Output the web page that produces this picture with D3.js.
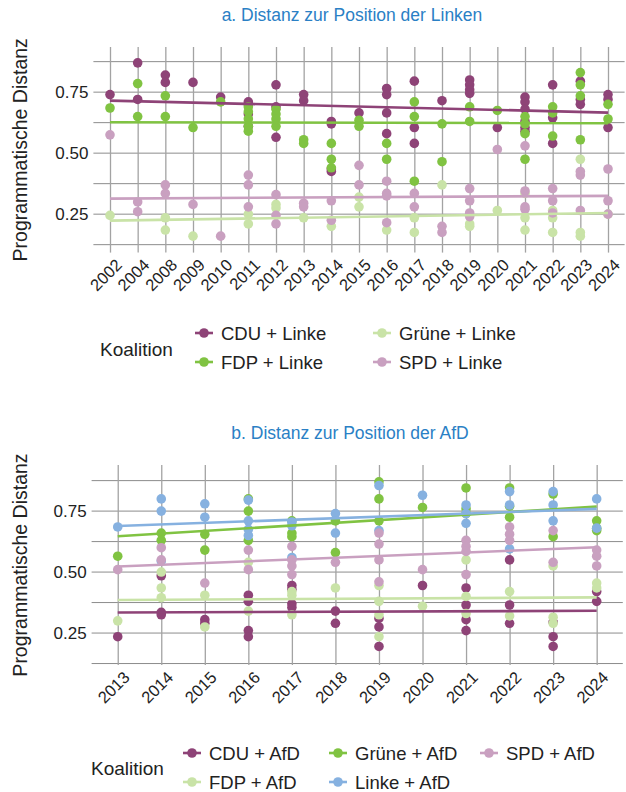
<!DOCTYPE html>
<html>
<head>
<meta charset="utf-8">
<script src="https://cdn.jsdelivr.net/npm/d3@7"></script>
<style>
  body { margin: 0; background: #fff; }
  text { font-family: "Liberation Sans", Arial, Helvetica, sans-serif; fill: #222; }
</style>
</head>
<body>
<script>
// ---- data ----
const yearsA = ["2002","2004","2008","2009","2010","2011","2012","2013","2014","2015",
                "2016","2017","2018","2019","2020","2021","2022","2023","2024"];

// one inner list per year, several coalitions per year
const cduLinke = [[0.74],[0.87,0.72],[0.82,0.79],[0.79],[0.73],[0.71,0.70,0.66,0.61],
  [0.78,0.69,0.565],[0.74,0.715],[0.63,0.62,0.435,0.425],[0.665],[0.765,0.74,0.665,0.58],
  [0.795,0.605,0.54],[0.715],[0.80,0.78,0.76,0.745],[0.605],[0.73,0.71,0.68,0.63,0.605,0.59],
  [0.78,0.645,0.54],[0.795,0.72,0.70],[0.74,0.72,0.605]];
const fdpLinke = [[0.685],[0.785,0.65],[0.735,0.65],[0.605],[0.71],[0.69,0.67,0.64,0.61,0.59],
  [0.68,0.66,0.64,0.61],[0.555,0.54],[0.54,0.475,0.44],[0.635,0.61],[0.54,0.475],
  [0.71,0.65,0.385],[0.62,0.465],[0.69,0.63],[0.675],[0.65,0.62,0.58,0.475],
  [0.69,0.665,0.57],[0.83,0.78,0.735,0.555],[0.70,0.64]];
const grueneLinke = [[0.245],[],[0.235,0.185],[0.16],[],[0.25,0.21],[0.29,0.275],[0.235],
  [0.20],[0.32,0.28],[0.185],[0.235,0.175],[0.37],[0.21,0.20],[0.265],[0.335,0.235,0.185],
  [0.265,0.235,0.175],[0.475,0.175,0.16],[0.25]];
const spdLinke = [[0.575],[0.30,0.26],[0.37,0.335],[0.29],[0.16],[0.41,0.37,0.28],
  [0.33,0.245,0.21],[0.295,0.28],[0.305,0.225],[0.45,0.37],[0.385,0.335,0.325,0.215],
  [0.335,0.28],[0.20,0.175],[0.355,0.305,0.255,0.24],[0.515],[0.53,0.345,0.28,0.27],
  [0.355,0.305,0.255],[0.425,0.41,0.265],[0.435,0.305,0.25]];

const yearsB = ["2013","2014","2015","2016","2017","2018","2019","2020","2021","2022","2023","2024"];

const cduAfd = [[0.235],[0.485,0.335,0.325],[0.305,0.29],[0.405,0.38,0.26,0.235],
  [0.445,0.43,0.37,0.355],[0.34,0.29],[0.31,0.275,0.195],[0.445],[0.435,0.365,0.305,0.26],
  [0.55,0.365,0.29],[0.295,0.235,0.195],[0.42,0.38]];
const fdpAfd = [[0.30],[0.50,0.435,0.395],[0.405,0.275],[0.54,0.34],[0.42,0.405,0.325],
  [0.435],[0.445,0.38,0.325,0.235],[0.36],[0.55,0.40,0.33],[0.42,0.32],[0.525,0.315,0.29],
  [0.455,0.435]];
const grueneAfd = [[0.565],[0.66,0.63],[0.655,0.59],[0.80,0.75,0.63],[0.71,0.66,0.645],
  [0.71,0.58],[0.87,0.80,0.71],[0.765],[0.845,0.76,0.74],[0.845,0.77,0.725],[0.82,0.645],
  [0.71,0.68,0.67]];
const linkeAfd = [[0.685],[0.80,0.75,0.545],[0.78,0.725],[0.795,0.71,0.675,0.65],
  [0.705,0.69,0.56],[0.74,0.66],[0.855,0.67],[0.815],[0.775,0.74,0.70],[0.83,0.775,0.595],
  [0.83,0.775,0.71],[0.80,0.68]];
const spdAfd = [[0.51],[0.60,0.55],[0.455],[0.59,0.51],[0.605,0.55,0.525,0.49],[0.54],
  [0.66,0.615,0.55,0.46],[0.51],[0.63,0.605,0.585,0.49],[0.685,0.655,0.63],[0.67,0.54],
  [0.59,0.565,0.525]];

const yTickValues = [0.25, 0.5, 0.75];
const yGridValues = [0.125, 0.25, 0.375, 0.5, 0.625, 0.75, 0.875];

const cPurple = "#8e4377", cGreen = "#80c342", cLight = "#c9e3a7",
      cPink = "#c9a0c0", cBlue = "#86b1e0";

// ---- drawing ----
const svg = d3.select("body").append("svg")
    .attr("width", 626)
    .attr("height", 792);

function drawPanel(cfg) {
  const x = d3.scalePoint().domain(cfg.years).range(cfg.xRange).padding(0.6);
  const y = d3.scaleLinear().domain(cfg.yDomain).range(cfg.yRange);
  const top = cfg.yRange[1], bottom = cfg.yRange[0];
  const left = cfg.xRange[0], right = cfg.xRange[1];

  // title
  svg.append("text")
      .attr("x", cfg.titleX).attr("y", cfg.titleY)
      .attr("text-anchor", "middle")
      .style("font-size", "17.5px")
      .style("fill", "#2a80c5")
      .text(cfg.title);

  // horizontal grid
  svg.append("g").selectAll("line")
    .data(yGridValues)
    .join("line")
      .attr("x1", left).attr("x2", right)
      .attr("y1", d => y(d)).attr("y2", d => y(d))
      .style("stroke", "#8c8c8c").style("stroke-width", 1);

  // vertical grid + rotated year labels
  const xAxis = svg.append("g")
      .attr("transform", `translate(0, ${bottom})`)
      .call(d3.axisBottom(x).tickSize(-(bottom - top)).tickSizeOuter(0));
  xAxis.select(".domain").remove();
  xAxis.selectAll(".tick line").style("stroke", "#a3a3a3").style("stroke-width", 1.3);
  xAxis.selectAll(".tick text")
      .attr("x", null).attr("y", null)
      .attr("dy", "0.72em")
      .attr("transform", "translate(4,5) rotate(-45)")
      .attr("text-anchor", "end")
      .style("font-size", "16.5px")
      .style("fill", "#222");

  // y labels
  svg.append("g").selectAll("text")
    .data(yTickValues)
    .join("text")
      .attr("x", left - 5).attr("y", d => y(d))
      .attr("dy", "0.36em")
      .attr("text-anchor", "end")
      .style("font-size", "17px")
      .text(d => d3.format(".2f")(d));

  // y title
  svg.append("text")
      .attr("transform", `translate(27, ${(top + bottom) / 2}) rotate(-90)`)
      .attr("text-anchor", "middle")
      .style("font-size", "19.5px")
      .text("Programmatische Distanz");

  // points
  cfg.series.forEach(s => {
    const pts = [];
    s.values.forEach((vals, i) => vals.forEach(v => pts.push({ year: cfg.years[i], v: v })));
    svg.append("g").selectAll("circle")
      .data(pts)
      .join("circle")
        .attr("cx", d => x(d.year))
        .attr("cy", d => y(d.v))
        .attr("r", 4.8)
        .style("fill", s.color);
  });

  // linear trend per coalition (over year position)
  cfg.series.forEach(s => {
    const pts = [];
    s.values.forEach((vals, i) => vals.forEach(v => pts.push([i, v])));
    const mx = d3.mean(pts, d => d[0]), my = d3.mean(pts, d => d[1]);
    const b = d3.sum(pts, d => (d[0] - mx) * (d[1] - my)) / d3.sum(pts, d => (d[0] - mx) ** 2);
    const a = my - b * mx;
    const i0 = d3.min(pts, d => d[0]), i1 = d3.max(pts, d => d[0]);
    const line = d3.line()
        .x(d => x(cfg.years[d]))
        .y(d => y(a + b * d));
    svg.append("path")
        .datum([i0, i1])
        .attr("d", line)
        .style("fill", "none")
        .style("stroke", s.color)
        .style("stroke-width", 2.6);
  });

  // legend
  svg.append("text")
      .attr("x", cfg.legend.titleX).attr("y", cfg.legend.titleY)
      .attr("dy", "0.36em")
      .style("font-size", "19px")
      .text("Koalition");
  cfg.series.forEach(s => {
    const g = svg.append("g")
        .attr("transform", `translate(${s.key[0]}, ${s.key[1]})`);
    g.append("line")
        .attr("x1", -9).attr("x2", 9)
        .style("stroke", s.color).style("stroke-width", 2.6);
    g.append("circle").attr("r", 4.8).style("fill", s.color);
    g.append("text")
        .attr("x", 17).attr("dy", "0.36em")
        .style("font-size", "18.5px")
        .text(s.name);
  });
}

drawPanel({
  title: "a. Distanz zur Position der Linken",
  titleX: 352, titleY: 21,
  years: yearsA,
  xRange: [93.4, 624.6],
  yDomain: [0.0925, 0.935],
  yRange: [252.6, 47],
  series: [
    { name: "CDU + Linke", color: cPurple, values: cduLinke, key: [204, 333] },
    { name: "FDP + Linke", color: cGreen, values: fdpLinke, key: [204, 362] },
    { name: "Grüne + Linke", color: cLight, values: grueneLinke, key: [382, 333] },
    { name: "SPD + Linke", color: cPink, values: spdLinke, key: [382, 362] }
  ],
  legend: { titleX: 100, titleY: 349 }
});

drawPanel({
  title: "b. Distanz zur Position der AfD",
  titleX: 350, titleY: 439,
  years: yearsB,
  xRange: [91.6, 622.8],
  yDomain: [0.119, 0.939],
  yRange: [665, 465],
  series: [
    { name: "CDU + AfD", color: cPurple, values: cduAfd, key: [192, 753] },
    { name: "FDP + AfD", color: cLight, values: fdpAfd, key: [192, 782] },
    { name: "Grüne + AfD", color: cGreen, values: grueneAfd, key: [338, 753] },
    { name: "Linke + AfD", color: cBlue, values: linkeAfd, key: [338, 782] },
    { name: "SPD + AfD", color: cPink, values: spdAfd, key: [489, 753] }
  ],
  legend: { titleX: 91, titleY: 768 }
});
</script>
</body>
</html>
